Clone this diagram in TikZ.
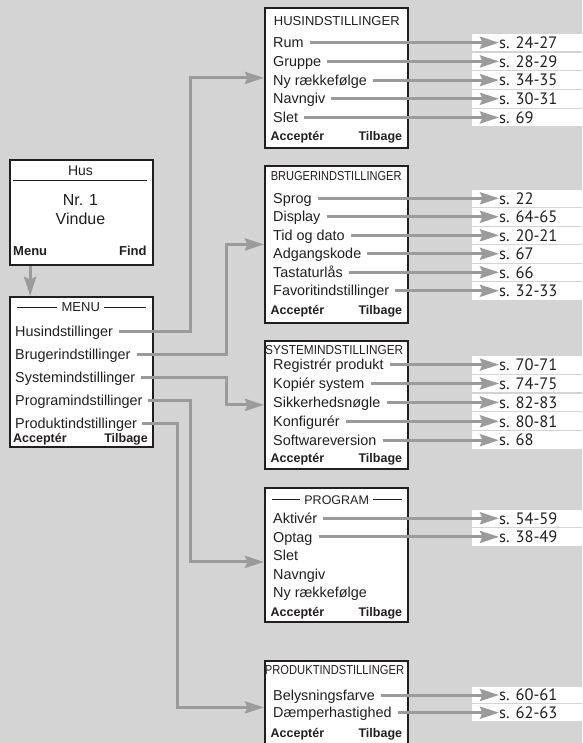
\documentclass[tikz,border=0pt]{standalone}
\usepackage{fontspec}
\setmainfont{Liberation Sans}
\newfontfamily\reffont{PT Sans}
\usepackage{graphicx}
\usetikzlibrary{arrows.meta}
\definecolor{paper}{HTML}{D4D4D4}
\definecolor{wire}{HTML}{9B9B9B}
\definecolor{ink}{HTML}{231F20}

\begin{document}
\begin{tikzpicture}[x=1pt, y=-1pt, text=ink,
    screen/.style={draw=ink, line width=1.8pt, fill=white, anchor=north west, minimum width=143pt, inner sep=0pt},
    item/.style={anchor=west, inner sep=0pt, text height=10.2pt, text depth=0pt, font=\fontsize{14.4}{16}\selectfont},
    softkey/.style={inner sep=0pt, text height=9pt, text depth=0pt, font=\bfseries\fontsize{12.5}{14}\selectfont},
    heading/.style={inner sep=0pt, text height=9.3pt, text depth=0pt, font=\fontsize{13}{15}\selectfont},
    row/.style={fill=white, anchor=west, minimum width=125pt, inner sep=0pt},
    pageno/.style={anchor=west, inner sep=0pt, text height=11.5pt, text depth=0pt, font=\reffont\fontsize{16.5}{18}\selectfont},
    link/.style={draw=wire, line width=3pt, -{Stealth[length=19pt, width=12pt, inset=2.5pt]}},
    rule/.style={draw=ink, line width=0.9pt}]
  \useasboundingbox (0,0) rectangle (582,743);
  \fill[paper] (0,0) rectangle (582,743);

  % start screen
  \node[screen, minimum height=105pt] (hjem) at (9,159) {};
  \node[heading, font=\fontsize{14}{16}\selectfont] at (80.5,170.7) {Hus};
  \draw[rule] (13.3,180) -- (147.3,180);
  \node[inner sep=0pt, font=\fontsize{16}{18}\selectfont] at (80.5,200) {Nr. 1};
  \node[inner sep=0pt, font=\fontsize{16}{18}\selectfont] at (80.5,219) {Vindue};
  \node[softkey, anchor=west, font=\bfseries\fontsize{13}{15}\selectfont] (menukey) at (13,251) {Menu};
  \node[softkey, anchor=east, font=\bfseries\fontsize{13}{15}\selectfont] at (146.7,251) {Find};

  % menu screen
  \node[screen, minimum height=150pt] (menu) at (9,296) {};
  \node[heading] (menut) at (80.8,307) {MENU};
  \draw[rule] (16.7,307) -- ([xshift=-4pt]menut.west);
  \draw[rule] ([xshift=4pt]menut.east) -- (145.7,307);
  \foreach \txt [count=\i] in {Husindstillinger, Brugerindstillinger, Systemindstillinger, Programindstillinger, Produktindstillinger}
    \node[item] (m\i) at (15,{331+23*(\i-1)}) {\txt};
  \node[softkey, anchor=west] at (13,437.5) {Acceptér};
  \node[softkey, anchor=east] at (148,437.5) {Tilbage};

  \draw[link] (menukey.south |- hjem.south) -- (menukey.south |- menu.north);

  % husindstillinger
  \node[screen, minimum height=140pt] (husind) at (264,7) {};
  \node[heading] at (336.8,20.7) {HUSINDSTILLINGER};
  \foreach \txt/\pg [count=\i] in {Rum/s. 24-27, Gruppe/s. 28-29, Ny rækkefølge/s. 34-35, Navngiv/s. 30-31, Slet/s. 69}{
    \node[row, minimum height=17.6pt] (hr\i) at (472,{42.7+18.7*(\i-1)}) {};
    \node[pageno] (hp\i) at (499,{42.7+18.7*(\i-1)}) {\pg};
    \node[item] (hi\i) at (273,{42.7+18.7*(\i-1)}) {\txt};
    \draw[link, shorten <=6pt] (hi\i.east) -- (hp\i.west);
  }
  \node[softkey, anchor=west] at (270.5,135.7) {Acceptér};
  \node[softkey, anchor=east] at (402.3,135.7) {Tilbage};

  % brugerindstillinger
  \node[screen, minimum height=157pt] (brugind) at (264,165) {};
  \node[heading] at (336.2,176) {\scalebox{0.85}[1]{BRUGERINDSTILLINGER}};
  \foreach \txt/\pg [count=\i] in {Sprog/s. 22, Display/s. 64-65, Tid og dato/s. 20-21, Adgangskode/s. 67, Tastaturlås/s. 66, Favoritindstillinger/s. 32-33}{
    \node[row, minimum height=17.4pt] (br\i) at (472,{198.3+18.5*(\i-1)}) {};
    \node[pageno] (bp\i) at (499,{198.3+18.5*(\i-1)}) {\pg};
    \node[item] (bi\i) at (273,{198.3+18.5*(\i-1)}) {\txt};
    \draw[link, shorten <=6pt] (bi\i.east) -- (bp\i.west);
  }
  \node[softkey, anchor=west] at (270.5,310) {Acceptér};
  \node[softkey, anchor=east] at (402.3,310) {Tilbage};

  % systemindstillinger
  \node[screen, minimum height=128pt] (sysind) at (264,340) {};
  \node[heading] at (334.2,350.3) {\scalebox{0.91}[1]{SYSTEMINDSTILLINGER}};
  \foreach \txt/\pg [count=\i] in {Registrér produkt/s. 70-71, Kopiér system/s. 74-75, Sikkerhedsnøgle/s. 82-83, Konfigurér/s. 80-81, Softwareversion/s. 68}{
    \node[row, minimum height=17.8pt] (sr\i) at (472,{364.6+18.9*(\i-1)}) {};
    \node[pageno] (sp\i) at (499,{364.6+18.9*(\i-1)}) {\pg};
    \node[item] (si\i) at (273,{364.6+18.9*(\i-1)}) {\txt};
    \draw[link, shorten <=6pt] (si\i.east) -- (sp\i.west);
  }
  \node[softkey, anchor=west] at (270.5,458.3) {Acceptér};
  \node[softkey, anchor=east] at (402.3,458.3) {Tilbage};

  % program
  \node[screen, minimum height=134pt] (prog) at (264,487) {};
  \node[heading, font=\fontsize{12.5}{14}\selectfont] (progt) at (336.7,500) {PROGRAM};
  \draw[rule] (271.7,499.5) -- ([xshift=-4pt]progt.west |- 0,499.5);
  \draw[rule] ([xshift=4pt]progt.east |- 0,499.5) -- (401.7,499.5);
  \foreach \txt/\pg [count=\i] in {Aktivér/s. 54-59, Optag/s. 38-49}{
    \node[row, minimum height=17.5pt] (pr\i) at (472,{518.3+18.6*(\i-1)}) {};
    \node[pageno] (pp\i) at (499,{518.3+18.6*(\i-1)}) {\pg};
    \node[item] (pi\i) at (273,{518.3+18.6*(\i-1)}) {\txt};
    \draw[link, shorten <=6pt] (pi\i.east) -- (pp\i.west);
  }
  \foreach \txt [count=\i from 3] in {Slet, Navngiv, Ny rækkefølge}
    \node[item] (pi\i) at (273,{518.3+18.6*(\i-1)}) {\txt};
  \node[softkey, anchor=west] at (270.5,611.7) {Acceptér};
  \node[softkey, anchor=east] at (402.3,611.7) {Tilbage};

  % produktindstillinger
  \node[screen, minimum height=93pt] (prodind) at (264,660) {};
  \node[heading] at (334.5,670) {\scalebox{0.86}[1]{PRODUKTINDSTILLINGER}};
  \foreach \txt/\pg [count=\i] in {Belysningsfarve/s. 60-61, Dæmperhastighed/s. 62-63}{
    \node[row, minimum height=16.6pt] (dr\i) at (472,{695+17.7*(\i-1)}) {};
    \node[pageno] (dp\i) at (499,{695+17.7*(\i-1)}) {\pg};
    \node[item] (di\i) at (273,{695+17.7*(\i-1)}) {\txt};
    \draw[link, shorten <=6pt] (di\i.east) -- (dp\i.west);
  }
  \node[softkey, anchor=west] at (270.5,733.3) {Acceptér};
  \node[softkey, anchor=east] at (402.3,733.3) {Tilbage};

  % menu links
  \draw[link, shorten <=6pt] (m1.east) -| ([xshift=-73.5pt]husind.west) -- (husind.west);
  \draw[link, shorten <=6pt] (m2.east) -| ([xshift=-38pt]brugind.west) -- (brugind.west);
  \draw[link, shorten <=6pt] (m3.east) -| ([xshift=-38pt]sysind.west) -- (sysind.west);
  \draw[link, shorten <=5pt] (m4.east) -| ([xshift=-73.5pt,yshift=-7pt]prog.west) -- ([yshift=-7pt]prog.west);
  \draw[link, shorten <=5pt] (m5.east) -| ([xshift=-86.3pt]prodind.west) -- (prodind.west);
\end{tikzpicture}
\end{document}
